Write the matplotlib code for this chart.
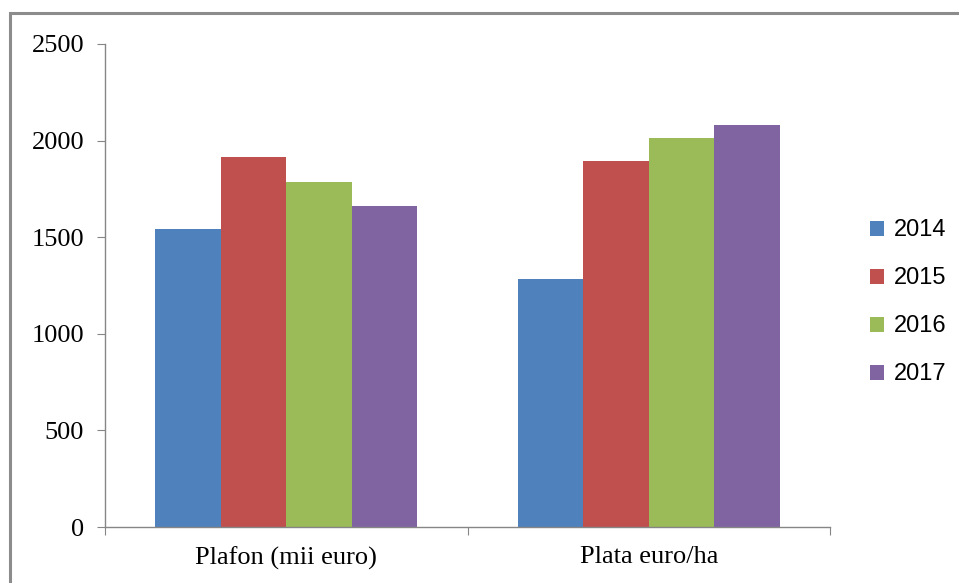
import numpy as np
import matplotlib
matplotlib.use("Agg")
import matplotlib.pyplot as plt
from matplotlib.patches import Rectangle

categories = ["Plafon (mii euro)", "Plata euro/ha"]
years = ["2014", "2015", "2016", "2017"]
values_2014 = [1540, 1282]
values_2015 = [1913, 1894]
values_2016 = [1787, 2013]
values_2017 = [1661, 2081]
colors = ["#4f81bd", "#c0504d", "#9bbb59", "#8064a2"]
y_ticks = [0, 500, 1000, 1500, 2000, 2500]

series = [values_2014, values_2015, values_2016, values_2017]

fig = plt.figure(figsize=(9.59, 5.83), dpi=100)
ax = fig.add_axes([105 / 959, 1 - 527 / 583, 725 / 959, 483 / 583])

# grey frame around the chart area, like the Excel export
fig.patches.append(Rectangle((10 / 959, -0.05), 1.0, 1 - 13 / 583 + 0.05,
                             transform=fig.transFigure, fill=False,
                             edgecolor="#8c8c8c", linewidth=2.2))

bar_w = 0.181
x = np.arange(len(categories))
for i, (vals, col, yr) in enumerate(zip(series, colors, years)):
    ax.bar(x + (i - 1.5) * bar_w, vals, width=bar_w, color=col, label=yr,
           edgecolor="none")

ax.set_xlim(-0.5, 1.5)
ax.set_ylim(0, 2500)
ax.set_yticks(y_ticks)
ax.set_yticklabels([str(t) for t in y_ticks], family="Liberation Serif", fontsize=19)

ax.set_xticks([-0.5, 0.5, 1.5])
ax.set_xticklabels([])
ax.set_xticks(x, minor=True)
ax.set_xticklabels(categories, minor=True, family="Liberation Serif", fontsize=19)
ax.tick_params(axis="x", which="minor", length=0, pad=14)
ax.tick_params(axis="x", which="major", length=6, color="#868686", direction="out")
ax.tick_params(axis="y", length=6, color="#868686", pad=9)

for s in ["top", "right"]:
    ax.spines[s].set_visible(False)
for s in ["left", "bottom"]:
    ax.spines[s].set_color("#868686")
    ax.spines[s].set_linewidth(1)

leg = ax.legend(loc="center left", bbox_to_anchor=(1.026, 0.465), frameon=False,
                prop={"family": "Liberation Sans", "size": 17},
                handlelength=0.6, handleheight=0.6, handletextpad=0.4,
                labelspacing=1.1)
for h in leg.legend_handles:
    h.set_edgecolor("none")

fig.savefig("out.png", dpi=100)
